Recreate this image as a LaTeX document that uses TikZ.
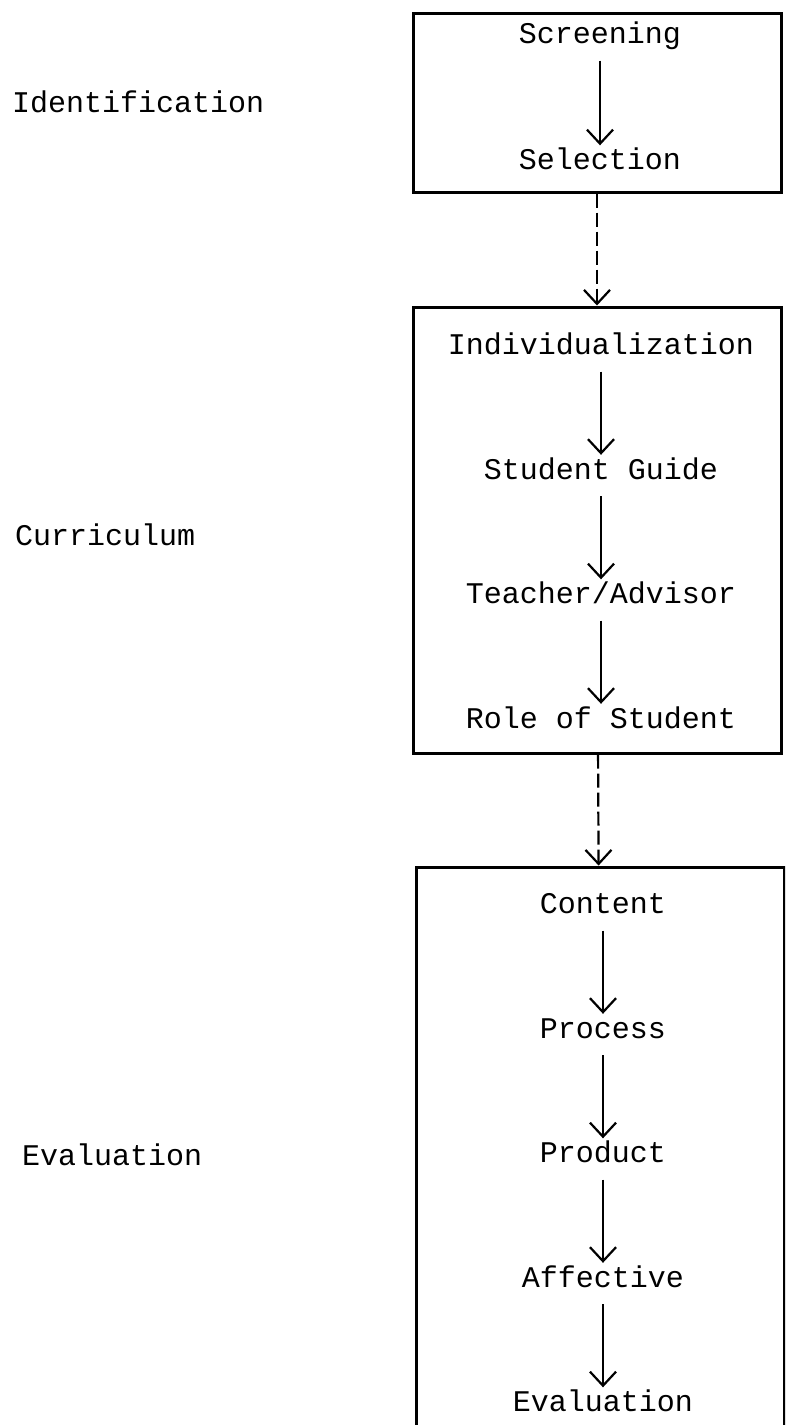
\documentclass[tikz,border=0pt]{standalone}
\usepackage{fontspec}
\setmonofont{Liberation Mono}
\usetikzlibrary{positioning,arrows.meta}

\begin{document}
\begin{tikzpicture}[
  x=1pt, y=-1pt,
  font=\ttfamily\fontsize{30}{36}\selectfont,
  item/.style ={inner xsep=0pt, inner ysep=6pt, text height=18pt, text depth=5pt},
  side/.style ={anchor=west, inner sep=0pt},
  panel/.style={draw, line width=3pt, minimum width=368pt},
  flow/.style ={-{Straight Barb[length=14pt,width=26pt]}, line width=2.2pt,
                shorten <=6pt},
  link/.style ={flow, dash pattern=on 14pt off 5pt, shorten <=0pt},
  node distance=124.5pt, on grid,
]

\useasboundingbox (0,0) rectangle (785,1425);
\clip (0,0) rectangle (785,1425);

% stage names on the left
\node[side] (ident) at (12,102)  {Identification};
\node[side] (curr)  at (15,535)  {Curriculum};
\node[side] (eval)  at (22,1155) {Evaluation};

% identification
\node[item] (screen) at (600,37) {Screening};
\node[item, below=126pt of screen] (select) {Selection};
\node[panel, minimum height=179pt] (idbox) at (597,102.5) {};

% curriculum
\node[item] (indiv) at (601,348) {Individualization};
\node[item, below=of indiv]   (guide)   {Student Guide};
\node[item, below=of guide]   (advisor) {Teacher/Advisor};
\node[item, below=of advisor] (role)    {Role of Student};
\node[panel, minimum height=446pt] (curbox) at (597,530) {};

% evaluation
\node[item] (content) at (603,907) {Content};
\node[item, below=of content] (process)  {Process};
\node[item, below=of process] (product)  {Product};
\node[item, below=of product] (affect)   {Affective};
\node[item, below=of affect]  (evalstep) {Evaluation};
\node[panel, minimum height=600pt] (evbox) at (600,1167) {};

\draw[flow] (screen) -- (select);
\draw[flow] (indiv) -- (guide);
\draw[flow] (guide) -- (advisor);
\draw[flow] (advisor) -- (role);
\draw[flow] (content) -- (process);
\draw[flow] (process) -- (product);
\draw[flow] (product) -- (affect);
\draw[flow] (affect) -- (evalstep);

\draw[link] (idbox) -- (curbox);
\draw[link] (curbox) -- (evbox);

\end{tikzpicture}
\end{document}
